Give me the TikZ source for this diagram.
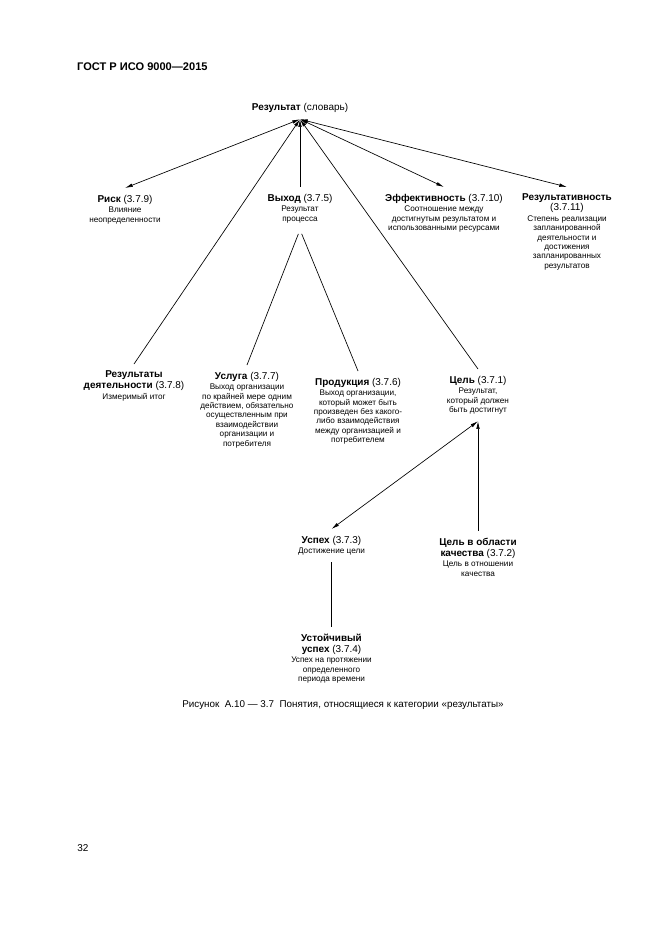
\documentclass[tikz,border=0pt]{standalone}
\usepackage{fontspec}
\setmainfont{Liberation Sans}
\usetikzlibrary{arrows.meta}
\newcommand{\ttlfont}{\fontsize{9}{10.5}\selectfont}
\begin{document}
\begin{tikzpicture}[x=0.3177mm, y=-0.3177mm, >={Latex[length=7pt,width=3.2pt]},
    concept/.style={anchor=north, align=center, inner sep=0pt, outer ysep=6.3pt, font=\fontsize{7.4}{8.5}\selectfont},
    link/.style={line width=0.6pt}]
    \useasboundingbox (0,0) rectangle (661,935);

    \node[anchor=west, inner sep=0pt, font=\fontsize{10}{12}\selectfont\bfseries] (head) at (77,67) {ГОСТ Р ИСО 9000—2015};

    \node[concept] (res) at (300,96) {{\ttlfont\textbf{Результат} (словарь)}};

    \node[concept] (risk) at (125,188) {{\ttlfont\textbf{Риск} (3.7.9)}\\[1pt] Влияние\\неопределенности};
    \node[concept] (vyhod) at (300,187) {{\ttlfont\textbf{Выход} (3.7.5)}\\[1pt] Результат\\процесса};
    \node[concept] (eff) at (444,187) {{\ttlfont\textbf{Эффективность} (3.7.10)}\\[1pt] Соотношение между\\достигнутым результатом и\\использованными ресурсами};
    \node[concept] (rezt) at (567,187) {{\ttlfont\textbf{Результативность}}\\[0.5pt]{\ttlfont(3.7.11)}\\[1pt] Степень реализации\\запланированной\\деятельности и\\достижения\\запланированных\\результатов};

    \node[concept] (rdeyat) at (134,364) {{\ttlfont\textbf{Результаты}}\\[1.5pt]{\ttlfont\textbf{деятельности} (3.7.8)}\\[1pt] Измеримый итог};
    \node[concept] (usluga) at (247,365) {{\ttlfont\textbf{Услуга} (3.7.7)}\\[1pt] Выход организации\\по крайней мере одним\\действием, обязательно\\осуществленным при\\взаимодействии\\организации и\\потребителя};
    \node[concept] (prod) at (358,371) {{\ttlfont\textbf{Продукция} (3.7.6)}\\[1pt] Выход организации,\\который может быть\\произведен без какого-\\либо взаимодействия\\между организацией и\\потребителем};
    \node[concept] (cel) at (478,369) {{\ttlfont\textbf{Цель} (3.7.1)}\\[1pt] Результат,\\который должен\\быть достигнут};

    \node[concept] (uspeh) at (331.5,529) {{\ttlfont\textbf{Успех} (3.7.3)}\\[1pt] Достижение цели};
    \node[concept] (celk) at (478,531) {{\ttlfont\textbf{Цель в области}}\\[1.5pt]{\ttlfont\textbf{качества} (3.7.2)}\\[1pt] Цель в отношении\\качества};
    \node[concept] (ustoi) at (331.5,627) {{\ttlfont\textbf{Устойчивый}}\\[1.5pt]{\ttlfont\textbf{успех} (3.7.4)}\\[1pt] Успех на протяжении\\определенного\\периода времени};

    \draw[link,<->] (res.south) -- (risk.north);
    \draw[link,<-] (res.south) -- (rdeyat.north);
    \draw[link,<-] (res.south) -- (vyhod.north);
    \draw[link,<-] (res.south) -- (cel.north);
    \draw[link,<->] (res.south) -- (eff.north);
    \draw[link,<->] (res.south) -- (rezt.north);

    \draw[link, shorten <=4pt] (vyhod.south) -- (usluga.north);
    \draw[link, shorten <=4pt] (vyhod.south) -- (prod.north);

    \draw[link,<->] (cel.south) -- (uspeh.north);
    \draw[link,<-] (cel.south) -- (celk.north);
    \draw[link] (uspeh.south) -- (ustoi.north);

    \node[inner sep=0pt, font=\fontsize{8.9}{10}\selectfont] (caption) at (343,705) {Рисунок~ А.10 — 3.7~ Понятия, относящиеся к категории «результаты»};
    \node[inner sep=0pt, font=\fontsize{9}{10}\selectfont] (page) at (83,848) {32};
\end{tikzpicture}
\end{document}
